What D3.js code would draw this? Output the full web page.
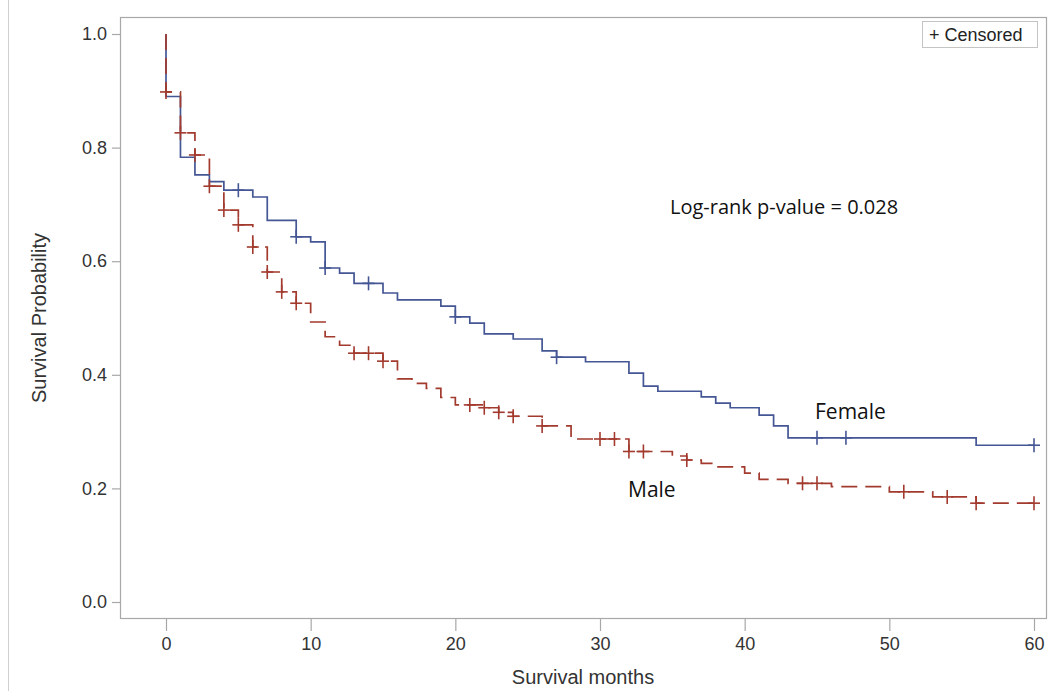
<!DOCTYPE html>
<html>
<head>
<meta charset="utf-8">
<script src="https://cdn.jsdelivr.net/npm/d3@7"></script>
<style>
  html, body { margin: 0; padding: 0; background: #fff; }
  svg { display: block; }
</style>
</head>
<body>
<svg id="chart" width="1050" height="691"></svg>
<script>
// ---- data ----
const femaleTimes = [0,1,2,3,4,6,7,9,10,11,12,13,15,16,19,20,21,22,24,26,27,29,32,33,34,37,38,39,41,42,43,56];
const femaleSurv  = [0.89,0.783,0.752,0.74,0.725,0.713,0.672,0.643,0.634,0.588,0.579,0.561,0.544,0.532,0.521,0.502,0.491,0.472,0.463,0.442,0.431,0.423,0.403,0.38,0.371,0.361,0.35,0.342,0.329,0.31,0.289,0.276];
const femaleCensor = [5,9,11,14,20,27,45,47,60];

const maleTimes = [0,1,2,3,4,5,6,7,8,9,10,11,12,13,15,16,17,18,19,20,22,23,24,26,28,32,35,36,37,38,40,41,43,46,50,53,56];
const maleSurv  = [0.898,0.826,0.787,0.732,0.69,0.664,0.625,0.581,0.546,0.526,0.493,0.467,0.452,0.438,0.424,0.393,0.385,0.376,0.36,0.347,0.342,0.334,0.327,0.31,0.287,0.265,0.257,0.25,0.244,0.238,0.227,0.216,0.209,0.203,0.194,0.185,0.174];
const maleCensor = [0,1,2,3,4,5,6,7,8,9,13,14,15,21,22,23,24,26,30,31,32,33,36,44,45,51,54,56,60];

const xTicks = [0,10,20,30,40,50,60];
const yTicks = [0,0.2,0.4,0.6,0.8,1.0];
const maxTime = 60;

// ---- layout ----
const svg = d3.select("#chart");
const frame = {left: 120, right: 1046, top: 17, bottom: 618};
const x = d3.scaleLinear().domain([0, 60]).range([166, 1034]);
const y = d3.scaleLinear().domain([0, 1]).range([602, 34]);

const textColor = "#333";
const frameColor = "#a8a8a8";
const femaleColor = "#445694";
const maleColor = "#a23a2e";

// outer left border of the image
svg.append("line").attr("x1", 8.5).attr("x2", 8.5).attr("y1", 0).attr("y2", 691)
  .attr("stroke", "#d0d0d0").attr("stroke-width", 1);

// plot frame
svg.append("rect")
  .attr("x", frame.left + 0.5).attr("y", frame.top + 0.5)
  .attr("width", frame.right - frame.left).attr("height", frame.bottom - frame.top)
  .attr("fill", "none").attr("stroke", frameColor).attr("stroke-width", 1.2);

// axes
const xAxis = d3.axisBottom(x).tickValues(xTicks).tickFormat(d3.format("d")).tickSize(12).tickPadding(6);
const gx = svg.append("g").attr("transform", `translate(0,${frame.bottom + 1})`).call(xAxis);
gx.select(".domain").remove();
gx.selectAll(".tick line").attr("stroke", frameColor).attr("stroke-width", 1.2);
gx.selectAll(".tick text").attr("fill", textColor)
  .style("font-family", "'Liberation Sans', Arial, sans-serif").style("font-size", "18px");

const yAxis = d3.axisLeft(y).tickValues(yTicks).tickFormat(d3.format(".1f")).tickSize(8).tickPadding(5);
const gy = svg.append("g").attr("transform", `translate(${frame.left},0)`).call(yAxis);
gy.select(".domain").remove();
gy.selectAll(".tick line").attr("stroke", frameColor).attr("stroke-width", 1.2);
gy.selectAll(".tick text").attr("fill", textColor)
  .style("font-family", "'Liberation Sans', Arial, sans-serif").style("font-size", "18px");

// axis titles
svg.append("text").attr("x", (frame.left + frame.right) / 2).attr("y", 684)
  .attr("text-anchor", "middle").attr("fill", textColor)
  .style("font-family", "'Liberation Sans', Arial, sans-serif").style("font-size", "20px")
  .text("Survival months");
svg.append("text")
  .attr("transform", `translate(46,${(y(0) + y(1)) / 2}) rotate(-90)`)
  .attr("text-anchor", "middle").attr("fill", textColor)
  .style("font-family", "'Liberation Sans', Arial, sans-serif").style("font-size", "20px")
  .text("Survival Probability");

// step function points
function stepPts(times, surv) {
  const pts = [[x(0), y(1)]];
  let cur = 1;
  times.forEach((t, i) => {
    pts.push([x(t), y(cur)]);
    cur = surv[i];
    pts.push([x(t), y(cur)]);
  });
  pts.push([x(maxTime), y(cur)]);
  return pts;
}
function survAt(times, surv, t) {
  let s = 1;
  times.forEach((tt, i) => { if (tt <= t) s = surv[i]; });
  return s;
}
const line = d3.line();

function drawGroup(times, surv, censor, color, dash) {
  const g = svg.append("g");
  g.append("path").attr("d", line(stepPts(times, surv)))
    .attr("fill", "none").attr("stroke", color).attr("stroke-width", 1.7)
    .attr("stroke-dasharray", dash);
  censor.forEach(t => {
    const cx = x(t), cy = y(survAt(times, surv, t));
    g.append("line").attr("x1", cx - 6).attr("x2", cx + 6).attr("y1", cy).attr("y2", cy)
      .attr("stroke", color).attr("stroke-width", 1.6);
    g.append("line").attr("x1", cx).attr("x2", cx).attr("y1", cy - 7).attr("y2", cy + 7)
      .attr("stroke", color).attr("stroke-width", 1.6);
  });
}
drawGroup(femaleTimes, femaleSurv, femaleCensor, femaleColor, null);
drawGroup(maleTimes, maleSurv, maleCensor, maleColor, "16,8");

// legend
const leg = svg.append("g");
leg.append("rect").attr("x", 922.5).attr("y", 21.5).attr("width", 115).attr("height", 26)
  .attr("fill", "#fff").attr("stroke", "#c4c4c4").attr("stroke-width", 1);
leg.append("text").attr("x", 929).attr("y", 41).attr("fill", "#222")
  .style("font-family", "'Liberation Sans', Arial, sans-serif").style("font-size", "18px")
  .text("+ Censored");

// annotations
const annFont = "'Open Sans', 'Noto Sans', sans-serif";
svg.append("text").attr("x", 670).attr("y", 214).attr("fill", "#111")
  .style("font-family", annFont).style("font-size", "20px").text("Log-rank p-value = 0.028");
svg.append("text").attr("x", 815).attr("y", 419).attr("fill", "#111")
  .style("font-family", annFont).style("font-size", "21px").text("Female");
svg.append("text").attr("x", 628).attr("y", 497).attr("fill", "#111")
  .style("font-family", annFont).style("font-size", "21px").text("Male");
</script>
</body>
</html>
